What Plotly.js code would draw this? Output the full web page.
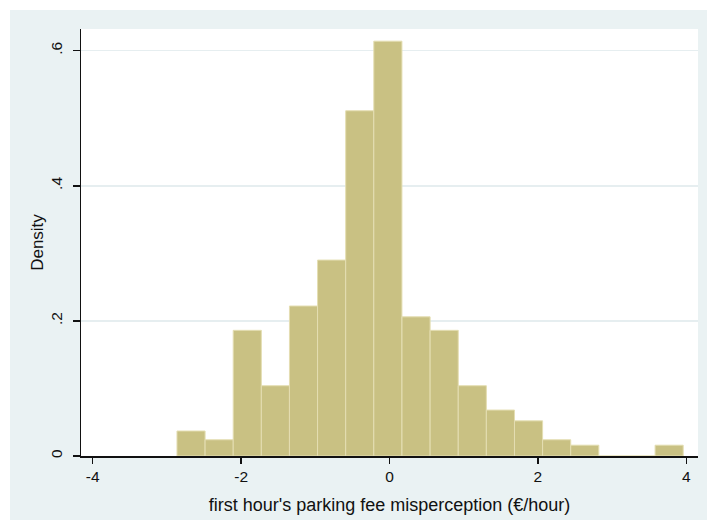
<!DOCTYPE html>
<html>
<head>
<meta charset="utf-8">
<script src="https://cdn.plot.ly/plotly-3.0.1.min.js"></script>
<style>
  html, body { margin: 0; padding: 0; background: #ffffff; width: 707px; height: 520px; overflow: hidden; }
  #chart { position: absolute; left: 10px; top: 10px; width: 697px; height: 510px; }
</style>
</head>
<body>
<div id="chart"></div>
<script>
// Histogram bin centers (€/hour) and densities
const binCenters = [-2.675, -2.296, -1.917, -1.538, -1.159, -0.780, -0.401, -0.022, 0.358, 0.737, 1.116, 1.495, 1.874, 2.253, 2.632, 3.011, 3.390, 3.769];
const densities  = [0.037, 0.024, 0.186, 0.104, 0.222, 0.290, 0.511, 0.614, 0.206, 0.186, 0.104, 0.068, 0.052, 0.024, 0.016, 0, 0, 0.016];
const xTickVals = [-4, -2, 0, 2, 4];
const xTickText = ['-4', '-2', '0', '2', '4'];
const yTickVals = [0, 0.2, 0.4, 0.6];
const yTickText = ['0', '.2', '.4', '.6'];
const xTitle = "first hour's parking fee misperception (€/hour)";
const yTitle = 'Density';

const FONT = 'Liberation Sans, Arial, sans-serif';

const trace = {
  type: 'bar',
  x: binCenters,
  y: densities,
  width: 0.379,
  marker: { color: '#C9C183', line: { color: '#E4DEB2', width: 1 } },
  hoverinfo: 'x+y'
};

const layout = {
  width: 697,
  height: 510,
  margin: { l: 71, r: 9, t: 19, b: 64, pad: 0 },
  paper_bgcolor: '#EAF2F3',
  plot_bgcolor: '#FFFFFF',
  showlegend: false,
  bargap: 0,
  font: { family: FONT, color: '#111111', size: 15 },
  xaxis: {
    range: [-4.158, 4.158],
    tickmode: 'array',
    tickvals: xTickVals,
    ticktext: xTickText,
    ticks: 'outside',
    ticklen: 6,
    tickwidth: 1.5,
    tickcolor: '#111111',
    showline: true,
    linecolor: '#111111',
    linewidth: 1.5,
    showgrid: false,
    zeroline: false,
    automargin: false,
    tickfont: { family: FONT, size: 15.5, color: '#111111' },
    title: { text: xTitle, font: { family: FONT, size: 18, color: '#111111' }, standoff: 14 }
  },
  yaxis: {
    range: [0, 0.632],
    tickmode: 'array',
    tickvals: yTickVals,
    ticktext: yTickText,
    tickangle: -90,
    ticks: 'outside',
    ticklen: 7,
    tickwidth: 1.5,
    tickcolor: '#111111',
    showline: true,
    linecolor: '#111111',
    linewidth: 1.5,
    showgrid: true,
    gridcolor: '#E6EEF0',
    gridwidth: 1.5,
    zeroline: false,
    automargin: false,
    ticklabelstandoff: 4,
    tickfont: { family: FONT, size: 15.5, color: '#111111' },
    title: { text: yTitle, font: { family: FONT, size: 17, color: '#111111' }, standoff: 0 }
  }
};

Plotly.newPlot('chart', [trace], layout, { displayModeBar: false, staticPlot: true });
</script>
</body>
</html>
